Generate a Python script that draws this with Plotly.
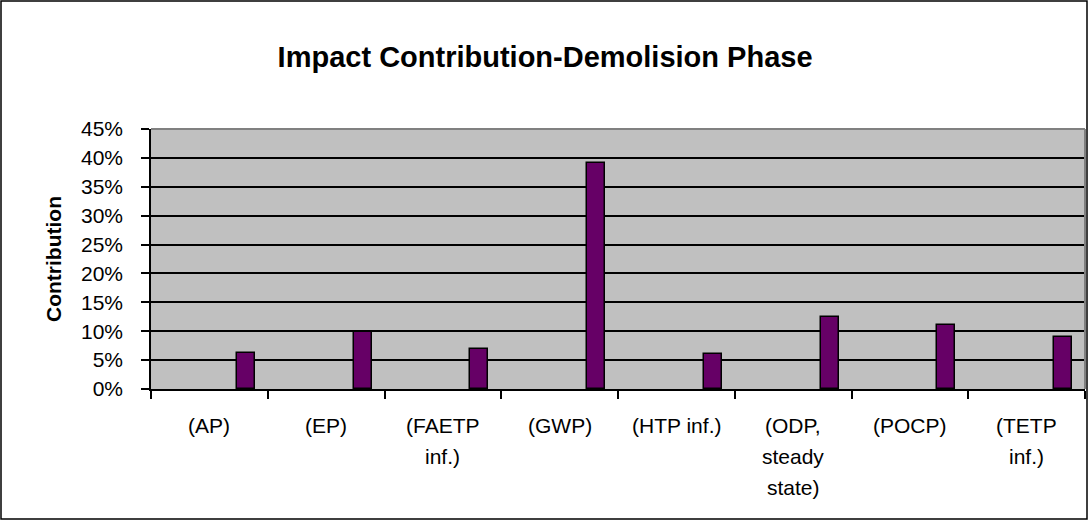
import plotly.graph_objects as go

categories = ['(AP)', '(EP)', '(FAETP\ninf.)', '(GWP)', '(HTP inf.)',
              '(ODP,\nsteady\nstate)', '(POCP)', '(TETP\ninf.)']
contribution = [0.062, 0.099, 0.07, 0.392, 0.06, 0.124, 0.111, 0.09]

W, H = 1088, 520
L, R, T, B = 151, 3, 129, 131
BAR_COLOR = '#660066'
FONT = 'Arial, Liberation Sans, sans-serif'

fig = go.Figure()
fig.add_trace(go.Bar(
    x=categories, y=contribution,
    width=0.154, offset=0.235,
    marker=dict(color=BAR_COLOR, line=dict(color='black', width=1.5)),
    hovertemplate='%{x}: %{y:.0%}<extra></extra>'
))

# multi-line category labels below the axis (wider line spacing than tick labels allow)
for cat in categories:
    for j, line in enumerate(cat.split('\n')):
        fig.add_annotation(
            x=cat, xref='x', y=0, yref='paper',
            text=line, showarrow=False,
            yanchor='middle', xanchor='center',
            yshift=-(36 + j * 31),
            font=dict(size=21, color='black', family=FONT)
        )

pw = W - L - R
ph = H - T - B
# outer chart border
fig.add_shape(type='rect', xref='paper', yref='paper',
              x0=-(L - 1) / pw, x1=1 + (R - 1) / pw,
              y0=-(B - 1) / ph, y1=1 + (T - 1) / ph,
              line=dict(color='black', width=1.5), layer='above')
# grey plot area top/right edges
fig.add_shape(type='line', xref='paper', yref='paper', x0=0, x1=1, y0=1, y1=1,
              line=dict(color='#808080', width=2), layer='above')
fig.add_shape(type='line', xref='paper', yref='paper', x0=1, x1=1, y0=0, y1=1,
              line=dict(color='#808080', width=2), layer='above')

fig.update_layout(
    width=W, height=H,
    margin=dict(l=L, r=R, t=T, b=B),
    paper_bgcolor='white', plot_bgcolor='#C0C0C0',
    font=dict(family=FONT, color='black'),
    showlegend=False,
    title=dict(text='<b>Impact Contribution-Demolision Phase</b>',
               x=0.501, xanchor='center', y=1 - 57 / H, yanchor='middle',
               yref='container', font=dict(size=29, color='black', family=FONT)),
    xaxis=dict(
        type='category', range=[-0.5, 7.5],
        showticklabels=False, tickson='boundaries',
        ticks='outside', ticklen=8, tickwidth=1.5, tickcolor='black',
        showline=True, linecolor='black', linewidth=1.5,
        showgrid=False, zeroline=False, fixedrange=True
    ),
    yaxis=dict(
        range=[0, 0.45], dtick=0.05, tickformat='.0%',
        ticks='outside', ticklen=8, tickwidth=1.5, tickcolor='black',
        ticklabelstandoff=14,
        tickfont=dict(size=21, color='black', family=FONT),
        showline=True, linecolor='black', linewidth=1.5,
        showgrid=True, gridcolor='black', gridwidth=1.5,
        zeroline=False, fixedrange=True,
        title=dict(text='<b>Contribution</b>', standoff=14,
                   font=dict(size=21, color='black', family=FONT))
    ),
    bargap=0
)

# drop the browser's default body margin so the 1088x520 figure fills the window
fig.write_html('out.html', config={'displayModeBar': False},
               post_script="document.body.style.margin='0';")
